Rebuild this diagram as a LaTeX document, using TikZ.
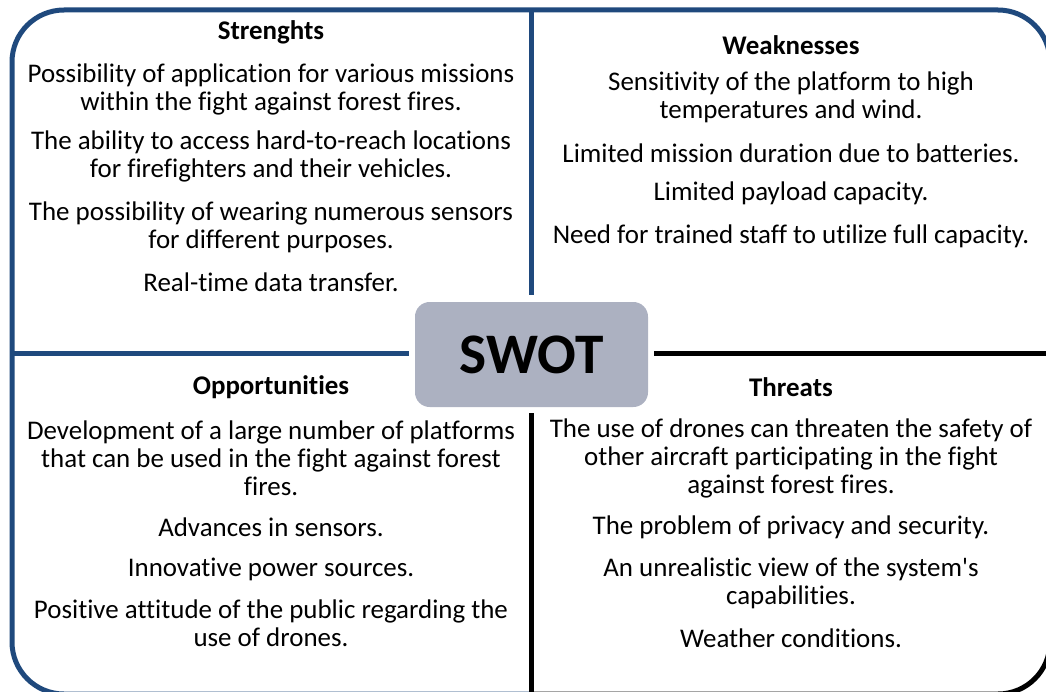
\documentclass[tikz,border=0pt]{standalone}
\usepackage{fontspec}
\newfontfamily\calib{Carlito}[Ligatures=NoCommon]
\definecolor{swotblue}{RGB}{31,73,125}
\definecolor{swotgray}{RGB}{172,177,193}
\begin{document}
\begin{tikzpicture}[x=0.75pt,y=-0.75pt,
  frameblue/.style={draw=swotblue,line width=3.75pt},
  frameblack/.style={draw=black,line width=3.75pt},
  body/.style={font=\calib\fontsize{20.2}{21}\selectfont,align=center,inner sep=0pt},
  head/.style={font=\calib\bfseries\fontsize{20.2}{21}\selectfont,inner sep=0pt},
  center box/.style={draw=none,fill=swotgray,rounded corners=11pt,minimum width=174.75pt,minimum height=78.75pt,inner sep=0pt,font=\calib\bfseries\fontsize{43}{50}\selectfont}]
\useasboundingbox (0,0) rectangle (1046,692);
% outer frame
\draw[frameblue,rounded corners=39pt] (1050,353) -- (1050,10) -- (12,10) -- (12,694) -- (531,694);
\draw[frameblack,rounded corners=39pt] (531,694) -- (1050,694) -- (1050,353);
% dividers
\coordinate (vt1) at (531,10);
\coordinate (vt2) at (531,295);
\coordinate (vb1) at (531,413);
\coordinate (vb2) at (531,694);
\coordinate (hl1) at (12,353);
\coordinate (hl2) at (409,353);
\coordinate (hr1) at (654,353);
\coordinate (hr2) at (1050,353);
\draw[frameblue] (vt1) -- (vt2);
\draw[frameblue] (hl1) -- (hl2);
\draw[frameblack] (vb1) -- (vb2);
\draw[frameblack] (hr1) -- (hr2);
% center
\node[center box] (swot) at (531.5,354.5) {SWOT};
% strengths
\node[head] (sh) at (271,32) {Strenghts};
\node[body] (s1) at (271,89) {Possibility of application for various missions\\within the fight against forest fires.};
\node[body] (s2) at (271,156.5) {The ability to access hard-to-reach locations\\for firefighters and their vehicles.};
\node[body] (s3) at (271,227) {The possibility of wearing numerous sensors\\for different purposes.};
\node[body] (s4) at (271,282) {Real-time data transfer.};
% weaknesses
\node[head] (wh) at (791,45) {Weaknesses};
\node[body] (w1) at (791,97.5) {Sensitivity of the platform to high\\temperatures and wind.};
\node[body] (w2) at (791,153) {Limited mission duration due to batteries.};
\node[body] (w3) at (791,193) {Limited payload capacity.};
\node[body] (w4) at (791,236) {Need for trained staff to utilize full capacity.};
% opportunities
\node[head] (oh) at (271,387) {Opportunities};
\node[body] (o1) at (271,458) {Development of a large number of platforms\\that can be used in the fight against forest\\fires.};
\node[body] (o2) at (271,527) {Advances in sensors.};
\node[body] (o3) at (271,569) {Innovative power sources.};
\node[body] (o4) at (271,623) {Positive attitude of the public regarding the\\use of drones.};
% threats
\node[head] (th) at (791,387) {Threats};
\node[body] (t1) at (791,458) {The use of drones can threaten the safety of\\other aircraft participating in the fight\\against forest fires.};
\node[body] (t2) at (791,527) {The problem of privacy and security.};
\node[body] (t3) at (791,583.5) {An unrealistic view of the system\char"0027s\\capabilities.};
\node[body] (t4) at (791,638) {Weather conditions.};
\end{tikzpicture}
\end{document}
